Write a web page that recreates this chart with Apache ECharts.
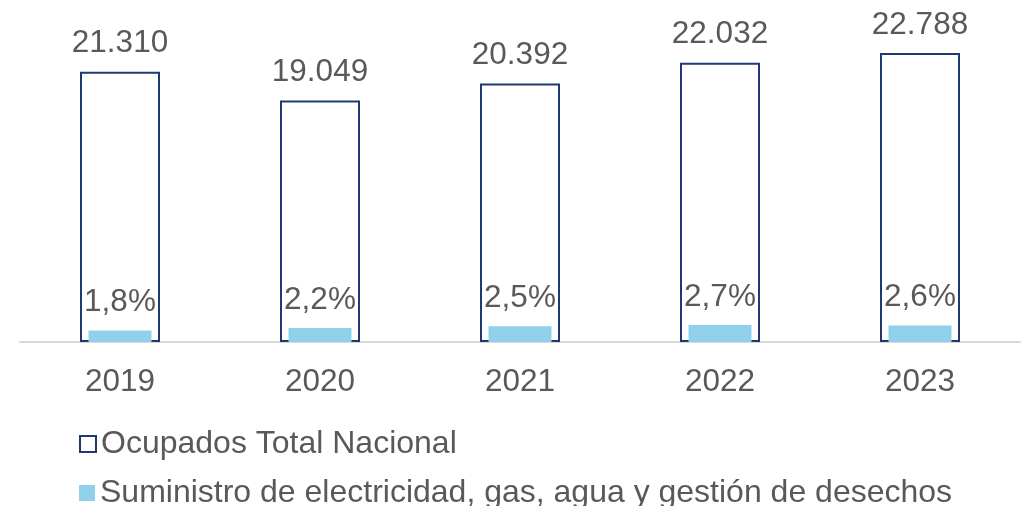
<!DOCTYPE html>
<html>
<head>
<meta charset="utf-8">
<script src="https://cdn.jsdelivr.net/npm/echarts@6/dist/echarts.min.js"></script>
<style>
  html, body { margin: 0; padding: 0; background: #fff; }
  #chart { width: 1026px; height: 506px; }
</style>
</head>
<body>
<div id="chart"></div>
<script>
const years = ['2019', '2020', '2021', '2022', '2023'];
const ocupados = [21310, 19049, 20392, 22032, 22788];
const suministroPct = [1.8, 2.2, 2.5, 2.7, 2.6];
const seriesNames = ['Ocupados Total Nacional', 'Suministro de electricidad, gas, agua y gestión de desechos'];

const textColor = '#595959';
const navy = '#1F3A73';
const lightBlue = '#8FD1EB';
const font = 'Liberation Sans, Arial, sans-serif';
const fs = 31.5;

const fmtMiles = (v) => String(v).replace(/\B(?=(\d{3})+(?!\d))/g, '.');
const fmtPct = (v) => v.toFixed(1).replace('.', ',') + '%';

const legendBase = {
  left: 74,
  itemWidth: 16,
  itemHeight: 16,
  textStyle: { color: textColor, fontSize: 32, fontFamily: font },
};

const chart = echarts.init(document.getElementById('chart'));
chart.setOption({
  animation: false,
  grid: { left: 20, right: 6, top: 25, bottom: 164 },
  legend: [
    { ...legendBase, top: 423, data: [{ name: seriesNames[0], icon: 'rect' }] },
    { ...legendBase, top: 472, data: [{ name: seriesNames[1], icon: 'rect' }] },
  ],
  xAxis: [
    {
      type: 'category',
      data: years,
      axisLine: { lineStyle: { color: '#D9D9D9', width: 2 } },
      axisTick: { show: false },
      axisLabel: { color: textColor, fontSize: fs, fontFamily: font, margin: 24 },
    },
    { type: 'category', data: years, show: false },
  ],
  yAxis: [
    { type: 'value', min: 0, max: 25000, show: false, splitLine: { show: false } },
    { type: 'value', min: 0, max: 50, show: false, splitLine: { show: false } },
  ],
  series: [
    {
      name: seriesNames[0],
      type: 'bar',
      xAxisIndex: 0,
      yAxisIndex: 0,
      barWidth: 80,
      data: ocupados,
      itemStyle: { color: '#ffffff', borderColor: navy, borderWidth: 2 },
      label: {
        show: true,
        position: 'top',
        distance: 12,
        color: textColor,
        fontSize: fs,
        fontFamily: font,
        formatter: (p) => fmtMiles(p.value),
      },
    },
    {
      name: seriesNames[1],
      type: 'bar',
      xAxisIndex: 1,
      yAxisIndex: 1,
      barWidth: 63,
      data: suministroPct,
      itemStyle: { color: lightBlue },
      label: {
        show: true,
        position: 'top',
        distance: 12,
        color: textColor,
        fontSize: fs,
        fontFamily: font,
        formatter: (p) => fmtPct(p.value),
      },
    },
  ],
});
</script>
</body>
</html>
